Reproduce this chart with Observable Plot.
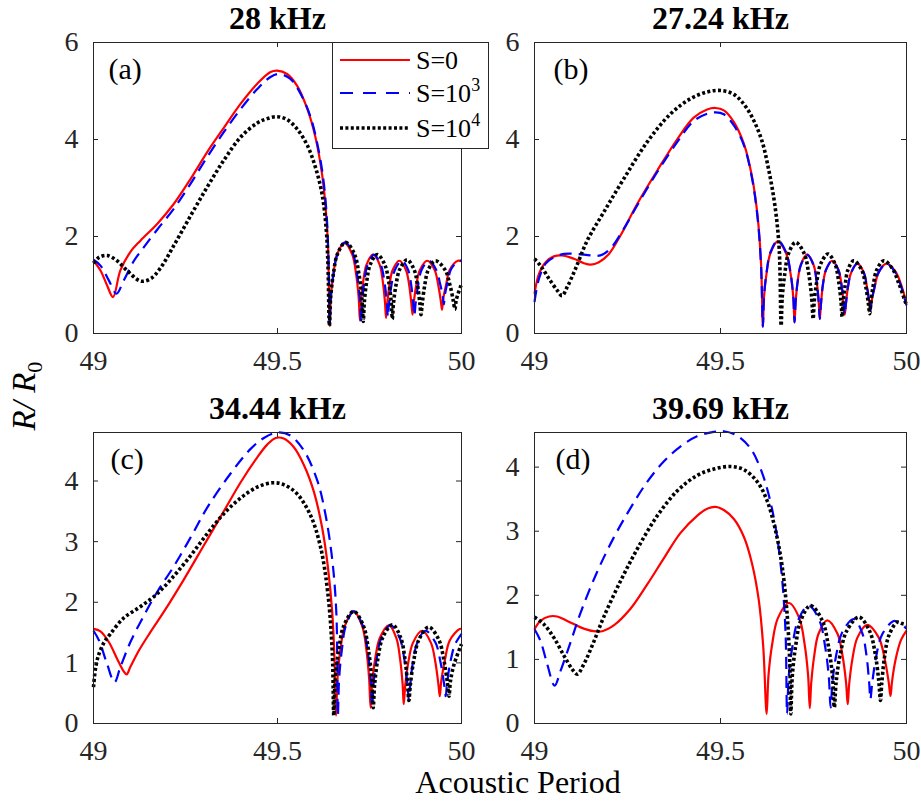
<!DOCTYPE html>
<html><head><meta charset="utf-8">
<script src="https://cdn.jsdelivr.net/npm/d3@7"></script>
<script src="https://cdn.jsdelivr.net/npm/@observablehq/plot@0.6"></script>
<style>
body{margin:0;background:#fff;}
#fig{position:relative;width:921px;height:801px;font-family:"Liberation Serif",serif;color:#000;overflow:hidden;}
.panel{position:absolute;}
#ylab{position:absolute;left:27px;top:396px;transform:translate(-50%,-50%) rotate(-90deg);font-size:33px;white-space:nowrap;line-height:1;}
#ylab sub{font-size:22px;font-style:normal;vertical-align:-7px;}
#xlab{position:absolute;left:518px;top:770px;transform:translateX(-50%);font-size:32px;white-space:nowrap;line-height:0.8;}
#legend{position:absolute;left:332px;top:42px;}
</style></head><body><div id="fig"></div>
<script>
// ---------- data ----------
const xTicks = [49, 49.5, 50];
const titles = ["28 kHz", "27.24 kHz", "34.44 kHz", "39.69 kHz"];
const panelLabels = ["(a)", "(b)", "(c)", "(d)"];
const legendBase = ["S=0", "S=10", "S=10"];
const legendSup = ["", "3", "4"];
const yTicksAB = [0, 2, 4, 6];
const yTicksCD = [0, 1, 2, 3, 4];

// (a) 28 kHz
const aS0 = [[49.000,1.50],[49.019,1.30],[49.037,0.99],[49.053,0.75],[49.073,1.30],[49.100,1.68],[49.128,1.92],[49.173,2.26],[49.218,2.67],[49.264,3.19],[49.309,3.74],[49.354,4.24],[49.400,4.74],[49.445,5.15],[49.481,5.39],[49.499,5.42],[49.526,5.35],[49.553,5.11],[49.581,4.63],[49.603,4.05],[49.621,3.29],[49.630,2.67],[49.637,1.85],[49.640,0.75],[49.642,0.15],
[49.645,0.75],[49.652,1.23],[49.662,1.63],[49.682,1.87],[49.703,1.63],[49.7135,1.23],[49.7205,0.75],[49.724,0.27],
[49.727,0.65],[49.733,1.08],[49.742,1.42],[49.760,1.63],[49.7775,1.42],[49.786,1.08],[49.792,0.65],[49.795,0.32],
[49.798,0.60],[49.804,0.99],[49.813,1.31],[49.831,1.50],[49.849,1.31],[49.858,0.99],[49.864,0.60],[49.867,0.39],
[49.870,0.62],[49.877,0.99],[49.887,1.31],[49.907,1.50],[49.927,1.31],[49.937,0.99],[49.944,0.66],[49.947,0.49],
[49.950,0.70],[49.958,1.00],[49.968,1.31],[49.990,1.50],[50.000,1.49]];
const aS3 = [[49.000,1.52],[49.019,1.40],[49.042,1.09],[49.0625,0.82],[49.082,1.09],[49.110,1.50],[49.137,1.78],[49.173,2.14],[49.218,2.57],[49.264,3.09],[49.309,3.64],[49.354,4.15],[49.400,4.63],[49.445,5.04],[49.481,5.29],[49.504,5.35],[49.535,5.25],[49.563,4.94],[49.590,4.46],[49.612,3.77],[49.626,3.09],[49.635,2.26],[49.640,1.02],[49.642,0.16],
[49.645,0.75],[49.6525,1.24],[49.663,1.64],[49.684,1.88],[49.7055,1.64],[49.716,1.24],[49.7235,0.75],[49.727,0.25],
[49.730,0.65],[49.736,1.07],[49.7445,1.41],[49.762,1.62],[49.781,1.41],[49.7905,1.07],[49.797,0.65],[49.800,0.34],
[49.803,0.60],[49.8095,0.99],[49.819,1.31],[49.838,1.50],[49.855,1.31],[49.8635,0.99],[49.869,0.60],[49.872,0.37],
[49.875,0.60],[49.882,0.99],[49.8915,1.31],[49.911,1.50],[49.9315,1.31],[49.942,1.02],[49.949,0.78],[49.952,0.60],
[49.955,0.80],[49.962,1.05],[49.972,1.33],[49.993,1.50],[50.000,1.50]];
const aS4 = [[49.000,1.45],[49.015,1.57],[49.037,1.61],[49.064,1.50],[49.091,1.30],[49.128,1.08],[49.155,1.13],[49.182,1.35],[49.218,1.81],[49.264,2.43],[49.309,3.02],[49.354,3.57],[49.400,4.05],[49.445,4.34],[49.472,4.43],[49.499,4.47],[49.526,4.41],[49.553,4.22],[49.581,3.88],[49.603,3.43],[49.621,2.88],[49.632,2.19],[49.637,1.44],[49.641,0.16],
[49.6445,0.75],[49.652,1.24],[49.663,1.64],[49.685,1.88],[49.709,1.64],[49.721,1.24],[49.729,0.75],[49.733,0.25],
[49.736,0.65],[49.7425,1.08],[49.752,1.42],[49.771,1.63],[49.7915,1.42],[49.802,1.08],[49.809,0.65],[49.812,0.30],
[49.815,0.61],[49.822,1.00],[49.832,1.32],[49.852,1.52],[49.871,1.32],[49.8805,1.00],[49.887,0.61],[49.890,0.39],
[49.893,0.60],[49.900,0.99],[49.9095,1.31],[49.929,1.50],[49.9555,1.31],[49.969,0.99],[49.978,0.66],[49.982,0.50],
[49.986,0.70],[50.000,1.02]];

// (b) 27.24 kHz
const bS0 = [[49.000,0.82],[49.012,1.23],[49.030,1.47],[49.052,1.59],[49.074,1.61],[49.106,1.54],[49.133,1.45],[49.151,1.42],[49.173,1.47],[49.200,1.64],[49.231,2.02],[49.276,2.67],[49.330,3.36],[49.384,4.01],[49.428,4.45],[49.464,4.62],[49.487,4.65],[49.509,4.60],[49.536,4.36],[49.563,3.91],[49.585,3.22],[49.600,2.40],[49.609,1.44],[49.614,0.14],
[49.617,0.76],[49.624,1.25],[49.634,1.65],[49.654,1.90],[49.6765,1.65],[49.688,1.25],[49.6955,0.76],[49.699,0.23],
[49.702,0.65],[49.7075,1.08],[49.716,1.42],[49.733,1.63],[49.750,1.42],[49.7585,1.08],[49.764,0.65],[49.767,0.30],
[49.770,0.60],[49.775,0.99],[49.7835,1.31],[49.800,1.50],[49.817,1.31],[49.8255,0.99],[49.831,0.60],[49.834,0.39],
[49.837,0.60],[49.8425,0.95],[49.851,1.25],[49.868,1.44],[49.8855,1.25],[49.894,0.95],[49.900,0.64],[49.903,0.47],
[49.906,0.66],[49.914,0.95],[49.9245,1.25],[49.946,1.44],[49.970,1.28],[49.985,1.02],[50.000,0.62]];
const bS3 = [[49.000,0.65],[49.012,1.13],[49.030,1.44],[49.052,1.57],[49.079,1.64],[49.115,1.64],[49.150,1.61],[49.177,1.61],[49.204,1.75],[49.240,2.16],[49.276,2.64],[49.330,3.33],[49.384,3.95],[49.428,4.38],[49.464,4.53],[49.487,4.56],[49.509,4.52],[49.536,4.29],[49.563,3.88],[49.585,3.19],[49.600,2.36],[49.609,1.40],[49.614,0.14],
[49.617,0.77],[49.624,1.27],[49.634,1.67],[49.654,1.92],[49.6765,1.67],[49.688,1.27],[49.6955,0.77],[49.699,0.23],
[49.702,0.65],[49.7075,1.07],[49.716,1.41],[49.733,1.62],[49.750,1.41],[49.7585,1.07],[49.764,0.65],[49.767,0.30],
[49.770,0.60],[49.775,0.99],[49.7835,1.31],[49.800,1.50],[49.817,1.31],[49.8255,0.99],[49.831,0.60],[49.834,0.39],
[49.837,0.60],[49.8425,0.95],[49.851,1.25],[49.868,1.44],[49.8855,1.25],[49.894,0.95],[49.900,0.64],[49.903,0.47],
[49.906,0.66],[49.914,0.95],[49.9245,1.25],[49.946,1.44],[49.970,1.26],[49.985,0.98],[50.000,0.58]];
const bS4 = [[49.000,1.54],[49.016,1.40],[49.039,1.13],[49.061,0.89],[49.074,0.78],[49.088,0.96],[49.110,1.33],[49.142,1.92],[49.186,2.50],[49.240,3.19],[49.303,3.95],[49.366,4.53],[49.419,4.84],[49.464,4.98],[49.500,5.01],[49.536,4.93],[49.572,4.63],[49.608,4.05],[49.630,3.36],[49.648,2.54],[49.658,1.71],[49.663,0.16],
[49.666,0.75],[49.673,1.24],[49.6825,1.64],[49.702,1.88],[49.7255,1.64],[49.737,1.24],[49.745,0.75],[49.749,0.30],
[49.752,0.66],[49.759,1.08],[49.769,1.43],[49.789,1.64],[49.808,1.43],[49.8175,1.08],[49.824,0.66],[49.827,0.34],
[49.8295,0.60],[49.835,0.99],[49.8425,1.31],[49.858,1.50],[49.8795,1.31],[49.890,0.99],[49.8975,0.62],[49.901,0.41],
[49.904,0.62],[49.9105,0.99],[49.920,1.31],[49.939,1.50],[49.962,1.34],[49.980,1.02],[50.000,0.58]];

// (c) 34.44 kHz
const cS0 = [[49.000,1.56],[49.019,1.52],[49.042,1.34],[49.064,1.07],[49.082,0.86],[49.090,0.81],[49.100,0.93],[49.123,1.20],[49.155,1.51],[49.191,1.84],[49.245,2.37],[49.300,2.94],[49.354,3.50],[49.400,3.98],[49.445,4.39],[49.472,4.60],[49.495,4.71],[49.517,4.70],[49.544,4.56],[49.572,4.26],[49.599,3.82],[49.621,3.24],[49.637,2.58],[49.649,1.81],[49.655,1.04],[49.659,0.13],
[49.663,0.74],[49.671,1.22],[49.683,1.61],[49.707,1.85],[49.730,1.61],[49.7415,1.22],[49.749,0.74],[49.753,0.26],
[49.757,0.65],[49.7655,1.07],[49.778,1.41],[49.803,1.62],[49.823,1.41],[49.833,1.07],[49.840,0.65],[49.843,0.32],
[49.847,0.62],[49.8555,1.01],[49.868,1.33],[49.893,1.53],[49.917,1.33],[49.929,1.01],[49.937,0.66],[49.941,0.45],
[49.945,0.70],[49.955,1.05],[49.968,1.37],[49.995,1.56],[50.000,1.56]];
const cS3 = [[49.000,1.53],[49.015,1.37],[49.037,0.98],[49.057,0.68],[49.073,0.93],[49.100,1.34],[49.137,1.78],[49.173,2.17],[49.218,2.59],[49.264,3.07],[49.309,3.56],[49.372,4.12],[49.427,4.53],[49.463,4.71],[49.500,4.80],[49.535,4.75],[49.572,4.50],[49.608,4.01],[49.630,3.46],[49.649,2.69],[49.660,1.81],[49.664,0.13],
[49.6675,0.74],[49.675,1.22],[49.6855,1.61],[49.707,1.85],[49.732,1.61],[49.7445,1.22],[49.753,0.74],[49.757,0.26],
[49.761,0.65],[49.7695,1.07],[49.782,1.41],[49.807,1.62],[49.832,1.41],[49.8445,1.07],[49.853,0.65],[49.857,0.38],
[49.8605,0.62],[49.868,1.01],[49.8795,1.33],[49.902,1.53],[49.9295,1.33],[49.943,1.01],[49.9525,0.66],[49.957,0.45],
[49.961,0.68],[49.970,1.02],[49.982,1.30],[50.000,1.48]];
const cS4 = [[49.000,0.60],[49.006,0.93],[49.015,1.15],[49.029,1.34],[49.046,1.48],[49.082,1.74],[49.128,1.93],[49.173,2.14],[49.218,2.43],[49.264,2.77],[49.309,3.13],[49.354,3.46],[49.400,3.72],[49.445,3.90],[49.486,3.97],[49.517,3.94],[49.553,3.79],[49.590,3.43],[49.617,2.91],[49.637,2.14],[49.649,1.15],[49.653,0.13],
[49.657,0.74],[49.6665,1.22],[49.680,1.61],[49.707,1.85],[49.7335,1.61],[49.747,1.22],[49.756,0.74],[49.760,0.26],
[49.764,0.65],[49.773,1.08],[49.786,1.42],[49.812,1.63],[49.8345,1.42],[49.846,1.08],[49.8535,0.65],[49.857,0.38],
[49.861,0.64],[49.8705,1.05],[49.884,1.38],[49.911,1.59],[49.9385,1.38],[49.952,1.05],[49.9615,0.68],[49.966,0.45],
[49.970,0.70],[49.980,0.98],[50.000,1.31]];

// (d) 39.69 kHz
const dS0 = [[49.000,1.47],[49.016,1.60],[49.039,1.67],[49.061,1.67],[49.088,1.60],[49.124,1.50],[49.159,1.44],[49.182,1.44],[49.213,1.53],[49.258,1.79],[49.303,2.17],[49.348,2.58],[49.392,2.97],[49.437,3.24],[49.464,3.35],[49.487,3.38],[49.509,3.33],[49.536,3.19],[49.563,2.91],[49.585,2.49],[49.603,1.92],[49.615,1.19],[49.624,0.15],
[49.629,0.75],[49.639,1.24],[49.654,1.64],[49.684,1.88],[49.712,1.64],[49.726,1.24],[49.7355,0.75],[49.740,0.24],
[49.744,0.64],[49.752,1.06],[49.7635,1.40],[49.787,1.61],[49.8145,1.40],[49.828,1.06],[49.8375,0.64],[49.842,0.30],
[49.846,0.62],[49.855,1.02],[49.868,1.34],[49.894,1.54],[49.9255,1.34],[49.941,1.02],[49.952,0.65],[49.957,0.43],
[49.961,0.65],[49.970,0.98],[49.985,1.30],[50.000,1.45]];
const dS3 = [[49.000,1.47],[49.016,1.29],[49.034,0.93],[49.054,0.59],[49.070,0.82],[49.097,1.27],[49.124,1.73],[49.168,2.36],[49.213,2.90],[49.258,3.36],[49.303,3.77],[49.348,4.09],[49.392,4.32],[49.437,4.48],[49.482,4.55],[49.509,4.56],[49.545,4.49],[49.581,4.29],[49.608,3.97],[49.630,3.56],[49.651,2.96],[49.666,2.23],[49.675,1.40],[49.679,0.15],
[49.6835,0.74],[49.6935,1.21],[49.708,1.60],[49.737,1.84],[49.7665,1.60],[49.781,1.21],[49.791,0.74],[49.796,0.25],
[49.801,0.65],[49.8115,1.08],[49.827,1.42],[49.858,1.63],[49.8805,1.42],[49.892,1.08],[49.8995,0.65],[49.903,0.38],
[49.908,0.64],[49.919,1.06],[49.9345,1.39],[49.966,1.60],[49.983,1.56],[50.000,1.48]];
const dS4 = [[49.000,1.66],[49.025,1.55],[49.052,1.34],[49.079,1.06],[49.101,0.85],[49.115,0.77],[49.133,0.93],[49.159,1.27],[49.186,1.66],[49.231,2.22],[49.276,2.72],[49.330,3.24],[49.384,3.63],[49.437,3.87],[49.482,3.97],[49.527,4.01],[49.563,3.96],[49.599,3.77],[49.625,3.48],[49.648,3.01],[49.666,2.44],[49.679,1.71],[49.686,0.98],[49.689,0.15],
[49.693,0.74],[49.702,1.21],[49.7155,1.60],[49.742,1.84],[49.774,1.60],[49.790,1.21],[49.801,0.74],[49.806,0.25],
[49.811,0.66],[49.8225,1.10],[49.839,1.44],[49.872,1.66],[49.901,1.44],[49.9155,1.10],[49.9255,0.66],[49.930,0.36],
[49.9335,0.63],[49.941,1.04],[49.9525,1.37],[49.975,1.58],[49.988,1.56],[50.000,1.54]];

// ---------- styles & layout ----------
const seriesStyle = [
  {stroke: "#ff0000", width: 2.2, dash: null},
  {stroke: "#0000ff", width: 2.2, dash: "12,7"},
  {stroke: "#000000", width: 3.6, dash: "3,2.4"}
];
const axisColor = "#262626";
const FONT = '"Liberation Serif", "Times New Roman", serif';

const panels = [
  {series:[aS0,aS3,aS4], yMax:6,    yTicks:yTicksAB, left:0,   top:0,   width:470, height:400, mL:93, mR:9,  mT:42, mB:67, ldx:15},
  {series:[bS0,bS3,bS4], yMax:6,    yTicks:yTicksAB, left:460, top:0,   width:461, height:400, mL:74, mR:15, mT:42, mB:67, ldx:19},
  {series:[cS0,cS3,cS4], yMax:4.8,  yTicks:yTicksCD, left:0,   top:390, width:470, height:411, mL:93, mR:9,  mT:42, mB:78, ldx:17},
  {series:[dS0,dS3,dS4], yMax:4.54, yTicks:yTicksCD, left:460, top:390, width:461, height:411, mL:74, mR:15, mT:42, mB:78, ldx:21}
];

const fig = document.getElementById("fig");

panels.forEach((p, k) => {
  const fw = p.width - p.mL - p.mR;
  const fh = p.height - p.mT - p.mB;
  const tick = 5;
  const marks = [];
  p.series.forEach((s, i) => {
    const st = seriesStyle[i];
    marks.push(Plot.line(s, {
      x: d => d[0], y: d => d[1],
      stroke: st.stroke, strokeWidth: st.width,
      strokeDasharray: st.dash, strokeLinecap: "butt", strokeLinejoin: "round",
      curve: "catmull-rom"
    }));
  });
  // inside tick marks, mirrored on all four sides
  marks.push(Plot.ruleX(xTicks, {x: d => d, insetTop: fh - tick, stroke: axisColor}));
  marks.push(Plot.ruleX(xTicks, {x: d => d, insetBottom: fh - tick, stroke: axisColor}));
  marks.push(Plot.ruleY(p.yTicks, {y: d => d, insetRight: fw - tick, stroke: axisColor}));
  marks.push(Plot.ruleY(p.yTicks, {y: d => d, insetLeft: fw - tick, stroke: axisColor}));
  marks.push(Plot.frame({stroke: axisColor, strokeWidth: 1}));
  marks.push(Plot.axisX({ticks: xTicks, tickSize: 0, tickPadding: 17, tickFormat: d => String(d), fontSize: 28, fill: axisColor, label: null}));
  marks.push(Plot.axisY({ticks: p.yTicks, tickSize: 0, tickPadding: 15, tickFormat: d => String(d), fontSize: 28, fill: axisColor, label: null}));
  marks.push(Plot.text([titles[k]], {text: d => d, frameAnchor: "top", dy: -24, lineAnchor: "middle", fontSize: 32, fontWeight: "bold", fill: "#000"}));
  marks.push(Plot.text([panelLabels[k]], {text: d => d, frameAnchor: "top-left", textAnchor: "start", dx: p.ldx, dy: 27, lineAnchor: "middle", fontSize: 30, fill: "#000"}));

  const chart = Plot.plot({
    width: p.width, height: p.height,
    marginLeft: p.mL, marginRight: p.mR, marginTop: p.mT, marginBottom: p.mB,
    x: {domain: [49, 50]},
    y: {domain: [0, p.yMax]},
    style: {fontFamily: FONT, fontSize: "28px", background: "transparent", overflow: "visible", color: axisColor},
    marks
  });
  const div = document.createElement("div");
  div.className = "panel";
  div.style.left = p.left + "px";
  div.style.top = p.top + "px";
  div.appendChild(chart);
  fig.appendChild(div);
});

// legend (inside panel a, overhanging its right edge)
const lg = d3.select(fig).append("div").attr("id", "legend")
  .append("svg").attr("width", 158).attr("height", 108)
  .style("font-family", FONT);
lg.append("rect").attr("x", 0.5).attr("y", 0.5).attr("width", 156).attr("height", 106)
  .attr("fill", "#fff").attr("stroke", axisColor);
const rowY = [18, 51, 86];
legendBase.forEach((t, i) => {
  const st = seriesStyle[i];
  lg.append("line").attr("x1", 8).attr("x2", 78).attr("y1", rowY[i]).attr("y2", rowY[i])
    .attr("stroke", st.stroke).attr("stroke-width", st.width)
    .attr("stroke-dasharray", st.dash ? (i === 1 ? "13,10" : st.dash) : null);
  const tx = lg.append("text").attr("x", 84).attr("y", rowY[i] + 9)
    .attr("font-size", 26).attr("fill", "#000").text(t);
  if (legendSup[i]) {
    tx.append("tspan").attr("dy", -11).attr("font-size", 18).text(legendSup[i]);
  }
});

// shared axis labels
const yl = document.createElement("div");
yl.id = "ylab";
yl.innerHTML = "<i>R</i><i>/ R</i><sub>0</sub>";
fig.appendChild(yl);
const xl = document.createElement("div");
xl.id = "xlab";
xl.textContent = "Acoustic Period";
fig.appendChild(xl);
</script>
</body></html>
